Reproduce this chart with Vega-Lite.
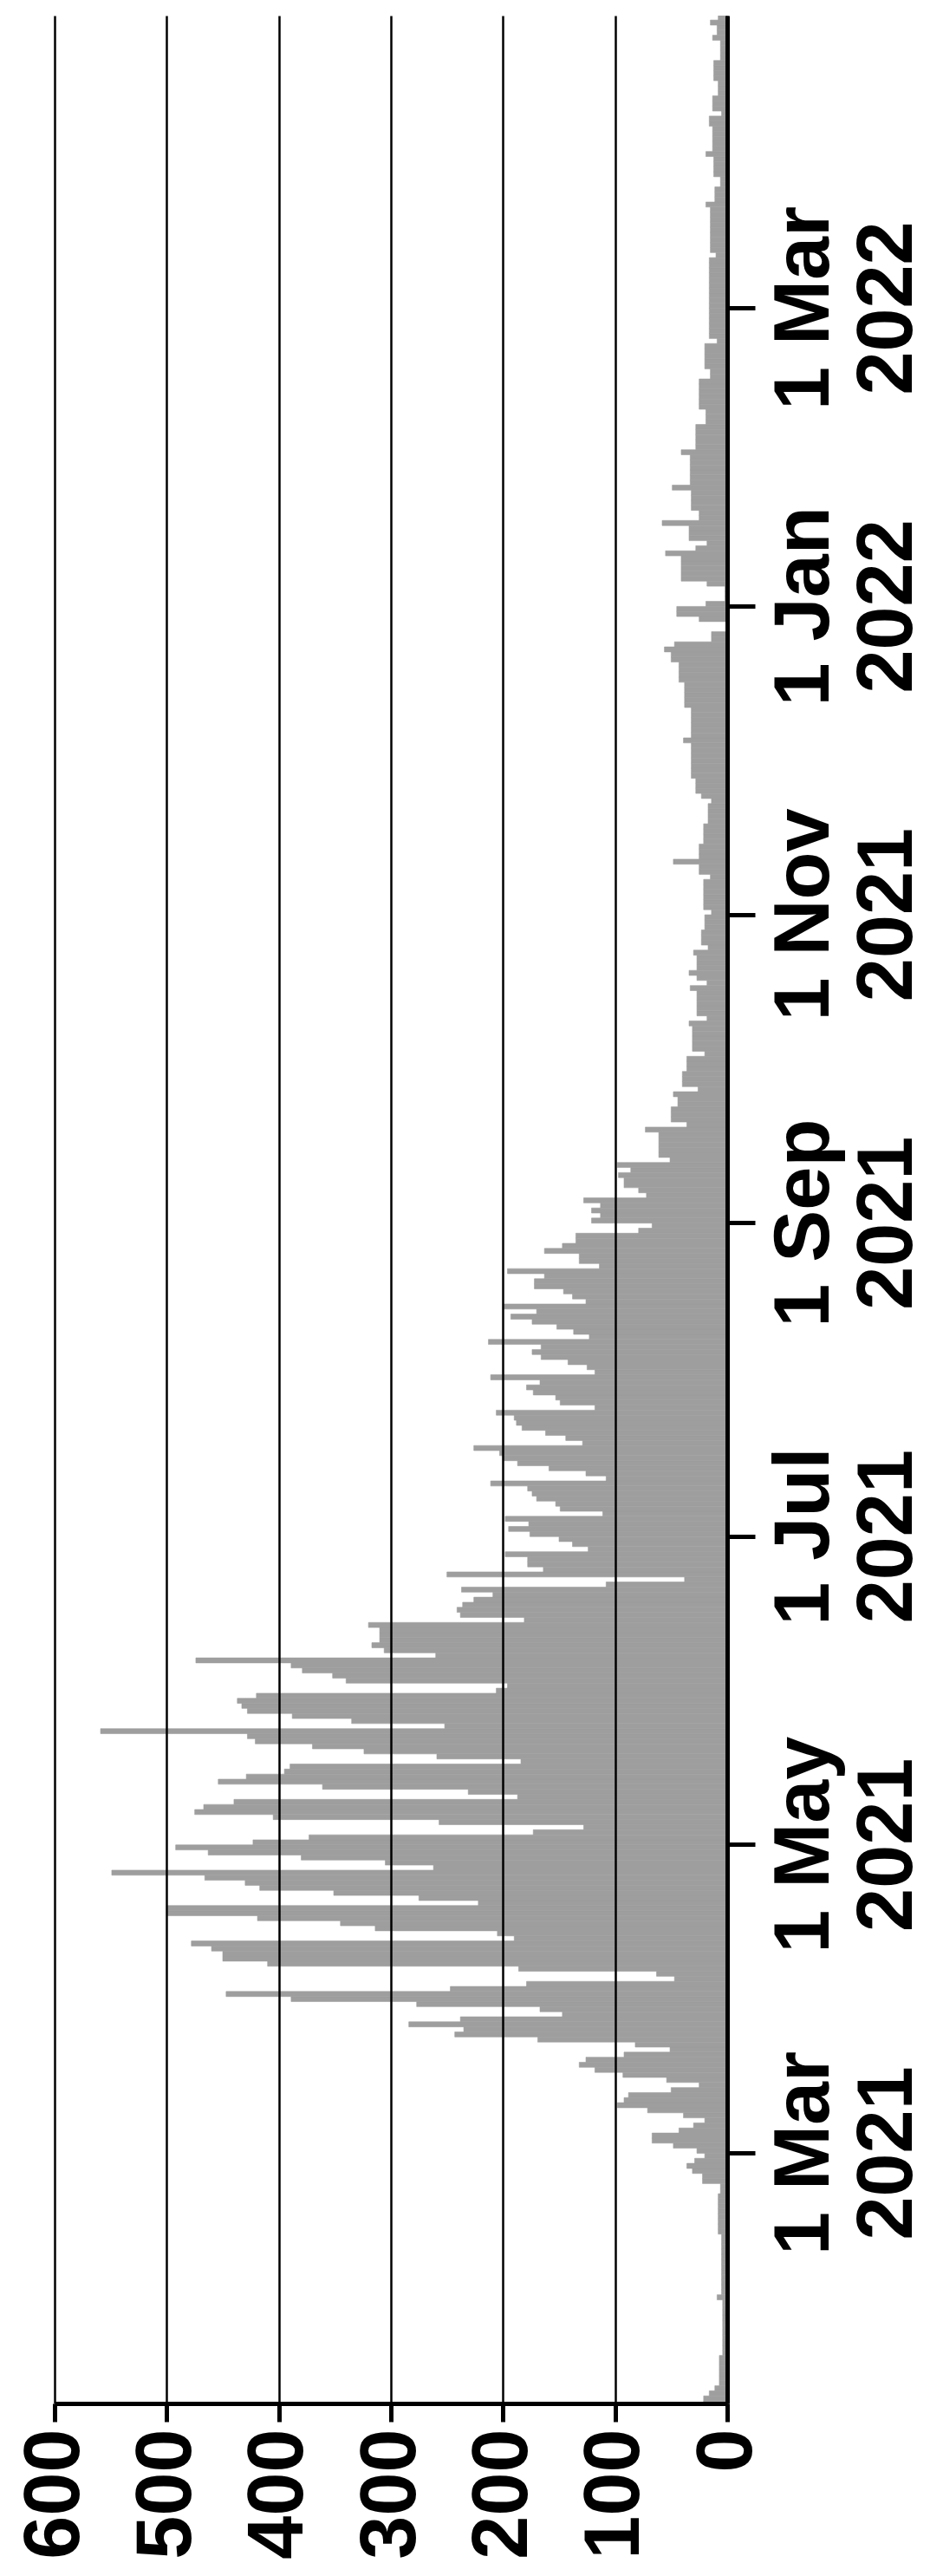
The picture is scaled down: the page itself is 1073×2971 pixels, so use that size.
{
  "$schema": "https://vega.github.io/schema/vega-lite/v6.json",
  "description": "Daily counts, Jan 2021 to Apr 2022, drawn as a bar chart turned on its side",
  "width": 776,
  "height": 2754,
  "autosize": {"type": "none"},
  "padding": {"left": 63, "top": 18, "right": 234, "bottom": 199},
  "background": "white",
  "config": {"view": {"stroke": null}},
  "data": {
    "values": [
      {"d":"2021-01-10","v":21},{"d":"2021-01-11","v":21},{"d":"2021-01-12","v":16},{"d":"2021-01-13","v":11},
      {"d":"2021-01-14","v":7},{"d":"2021-01-15","v":7},{"d":"2021-01-16","v":7},{"d":"2021-01-17","v":7},
      {"d":"2021-01-18","v":7},{"d":"2021-01-19","v":7},{"d":"2021-01-20","v":4},{"d":"2021-01-21","v":4},
      {"d":"2021-01-22","v":4},{"d":"2021-01-23","v":4},{"d":"2021-01-24","v":4},{"d":"2021-01-25","v":4},
      {"d":"2021-01-26","v":4},{"d":"2021-01-27","v":4},{"d":"2021-01-28","v":4},{"d":"2021-01-29","v":4},
      {"d":"2021-01-30","v":4},{"d":"2021-01-31","v":9},
      {"d":"2021-02-01","v":5},{"d":"2021-02-02","v":5},{"d":"2021-02-03","v":5},{"d":"2021-02-04","v":5},
      {"d":"2021-02-05","v":5},{"d":"2021-02-06","v":5},{"d":"2021-02-07","v":5},{"d":"2021-02-08","v":5},
      {"d":"2021-02-09","v":5},{"d":"2021-02-10","v":5},{"d":"2021-02-11","v":5},{"d":"2021-02-12","v":5},
      {"d":"2021-02-13","v":8},{"d":"2021-02-14","v":8},{"d":"2021-02-15","v":8},{"d":"2021-02-16","v":8},
      {"d":"2021-02-17","v":8},{"d":"2021-02-18","v":8},{"d":"2021-02-19","v":8},{"d":"2021-02-20","v":8},
      {"d":"2021-02-21","v":6},{"d":"2021-02-22","v":6},{"d":"2021-02-23","v":22},{"d":"2021-02-24","v":22},
      {"d":"2021-02-25","v":31},{"d":"2021-02-26","v":36},{"d":"2021-02-27","v":29},{"d":"2021-02-28","v":20},
      {"d":"2021-03-01","v":27},{"d":"2021-03-02","v":48},{"d":"2021-03-03","v":67},{"d":"2021-03-04","v":67},
      {"d":"2021-03-05","v":43},{"d":"2021-03-06","v":30},{"d":"2021-03-07","v":20},{"d":"2021-03-08","v":39},
      {"d":"2021-03-09","v":71},{"d":"2021-03-10","v":98},{"d":"2021-03-11","v":92},{"d":"2021-03-12","v":88},
      {"d":"2021-03-13","v":50},{"d":"2021-03-14","v":25},{"d":"2021-03-15","v":54},{"d":"2021-03-16","v":93},
      {"d":"2021-03-17","v":118},{"d":"2021-03-18","v":132},{"d":"2021-03-19","v":126},{"d":"2021-03-20","v":92},
      {"d":"2021-03-21","v":51},{"d":"2021-03-22","v":82},{"d":"2021-03-23","v":169},{"d":"2021-03-24","v":243},
      {"d":"2021-03-25","v":235},{"d":"2021-03-26","v":284},{"d":"2021-03-27","v":238},{"d":"2021-03-28","v":147},
      {"d":"2021-03-29","v":167},{"d":"2021-03-30","v":277},{"d":"2021-03-31","v":389},
      {"d":"2021-04-01","v":447},{"d":"2021-04-02","v":247},{"d":"2021-04-03","v":179},{"d":"2021-04-04","v":47},
      {"d":"2021-04-05","v":63},{"d":"2021-04-06","v":186},{"d":"2021-04-07","v":410},{"d":"2021-04-08","v":450},
      {"d":"2021-04-09","v":450},{"d":"2021-04-10","v":460},{"d":"2021-04-11","v":478},{"d":"2021-04-12","v":190},
      {"d":"2021-04-13","v":205},{"d":"2021-04-14","v":314},{"d":"2021-04-15","v":345},{"d":"2021-04-16","v":419},
      {"d":"2021-04-17","v":500},{"d":"2021-04-18","v":500},{"d":"2021-04-19","v":222},{"d":"2021-04-20","v":275},
      {"d":"2021-04-21","v":351},{"d":"2021-04-22","v":417},{"d":"2021-04-23","v":430},{"d":"2021-04-24","v":466},
      {"d":"2021-04-25","v":549},{"d":"2021-04-26","v":262},{"d":"2021-04-27","v":305},{"d":"2021-04-28","v":380},
      {"d":"2021-04-29","v":463},{"d":"2021-04-30","v":492},
      {"d":"2021-05-01","v":423},{"d":"2021-05-02","v":373},{"d":"2021-05-03","v":173},{"d":"2021-05-04","v":128},
      {"d":"2021-05-05","v":257},{"d":"2021-05-06","v":405},{"d":"2021-05-07","v":475},{"d":"2021-05-08","v":467},
      {"d":"2021-05-09","v":440},{"d":"2021-05-10","v":187},{"d":"2021-05-11","v":231},{"d":"2021-05-12","v":361},
      {"d":"2021-05-13","v":454},{"d":"2021-05-14","v":429},{"d":"2021-05-15","v":395},{"d":"2021-05-16","v":390},
      {"d":"2021-05-17","v":184},{"d":"2021-05-18","v":259},{"d":"2021-05-19","v":324},{"d":"2021-05-20","v":370},
      {"d":"2021-05-21","v":421},{"d":"2021-05-22","v":428},{"d":"2021-05-23","v":559},{"d":"2021-05-24","v":252},
      {"d":"2021-05-25","v":335},{"d":"2021-05-26","v":388},{"d":"2021-05-27","v":428},{"d":"2021-05-28","v":433},
      {"d":"2021-05-29","v":437},{"d":"2021-05-30","v":420},{"d":"2021-05-31","v":206},
      {"d":"2021-06-01","v":196},{"d":"2021-06-02","v":340},{"d":"2021-06-03","v":352},{"d":"2021-06-04","v":379},
      {"d":"2021-06-05","v":389},{"d":"2021-06-06","v":474},{"d":"2021-06-07","v":260},{"d":"2021-06-08","v":306},
      {"d":"2021-06-09","v":317},{"d":"2021-06-10","v":310},{"d":"2021-06-11","v":310},{"d":"2021-06-12","v":310},
      {"d":"2021-06-13","v":320},{"d":"2021-06-14","v":181},{"d":"2021-06-15","v":238},{"d":"2021-06-16","v":241},
      {"d":"2021-06-17","v":236},{"d":"2021-06-18","v":226},{"d":"2021-06-19","v":209},{"d":"2021-06-20","v":237},
      {"d":"2021-06-21","v":108},{"d":"2021-06-22","v":38},{"d":"2021-06-23","v":250},{"d":"2021-06-24","v":164},
      {"d":"2021-06-25","v":178},{"d":"2021-06-26","v":178},{"d":"2021-06-27","v":198},{"d":"2021-06-28","v":124},
      {"d":"2021-06-29","v":138},{"d":"2021-06-30","v":150},
      {"d":"2021-07-01","v":176},{"d":"2021-07-02","v":195},{"d":"2021-07-03","v":177},{"d":"2021-07-04","v":198},
      {"d":"2021-07-05","v":111},{"d":"2021-07-06","v":149},{"d":"2021-07-07","v":153},{"d":"2021-07-08","v":170},
      {"d":"2021-07-09","v":174},{"d":"2021-07-10","v":178},{"d":"2021-07-11","v":211},{"d":"2021-07-12","v":108},
      {"d":"2021-07-13","v":126},{"d":"2021-07-14","v":159},{"d":"2021-07-15","v":187},{"d":"2021-07-16","v":200},
      {"d":"2021-07-17","v":203},{"d":"2021-07-18","v":226},{"d":"2021-07-19","v":129},{"d":"2021-07-20","v":144},
      {"d":"2021-07-21","v":162},{"d":"2021-07-22","v":183},{"d":"2021-07-23","v":188},{"d":"2021-07-24","v":190},
      {"d":"2021-07-25","v":206},{"d":"2021-07-26","v":118},{"d":"2021-07-27","v":149},{"d":"2021-07-28","v":153},
      {"d":"2021-07-29","v":173},{"d":"2021-07-30","v":179},{"d":"2021-07-31","v":167},
      {"d":"2021-08-01","v":211},{"d":"2021-08-02","v":118},{"d":"2021-08-03","v":125},{"d":"2021-08-04","v":142},
      {"d":"2021-08-05","v":166},{"d":"2021-08-06","v":174},{"d":"2021-08-07","v":166},{"d":"2021-08-08","v":213},
      {"d":"2021-08-09","v":123},{"d":"2021-08-10","v":137},{"d":"2021-08-11","v":152},{"d":"2021-08-12","v":174},
      {"d":"2021-08-13","v":193},{"d":"2021-08-14","v":170},{"d":"2021-08-15","v":200},{"d":"2021-08-16","v":126},
      {"d":"2021-08-17","v":138},{"d":"2021-08-18","v":146},{"d":"2021-08-19","v":172},{"d":"2021-08-20","v":172},
      {"d":"2021-08-21","v":163},{"d":"2021-08-22","v":196},{"d":"2021-08-23","v":114},{"d":"2021-08-24","v":132},
      {"d":"2021-08-25","v":132},{"d":"2021-08-26","v":163},{"d":"2021-08-27","v":147},{"d":"2021-08-28","v":135},
      {"d":"2021-08-29","v":135},{"d":"2021-08-30","v":79},{"d":"2021-08-31","v":67},
      {"d":"2021-09-01","v":121},{"d":"2021-09-02","v":113},{"d":"2021-09-03","v":121},{"d":"2021-09-04","v":113},
      {"d":"2021-09-05","v":128},{"d":"2021-09-06","v":72},{"d":"2021-09-07","v":79},{"d":"2021-09-08","v":92},
      {"d":"2021-09-09","v":92},{"d":"2021-09-10","v":97},{"d":"2021-09-11","v":86},{"d":"2021-09-12","v":98},
      {"d":"2021-09-13","v":51},{"d":"2021-09-14","v":61},{"d":"2021-09-15","v":61},{"d":"2021-09-16","v":61},
      {"d":"2021-09-17","v":61},{"d":"2021-09-18","v":61},{"d":"2021-09-19","v":73},{"d":"2021-09-20","v":36},
      {"d":"2021-09-21","v":50},{"d":"2021-09-22","v":50},{"d":"2021-09-23","v":50},{"d":"2021-09-24","v":44},
      {"d":"2021-09-25","v":44},{"d":"2021-09-26","v":48},{"d":"2021-09-27","v":26},{"d":"2021-09-28","v":40},
      {"d":"2021-09-29","v":40},{"d":"2021-09-30","v":40},
      {"d":"2021-10-01","v":36},{"d":"2021-10-02","v":36},{"d":"2021-10-03","v":36},{"d":"2021-10-04","v":20},
      {"d":"2021-10-05","v":31},{"d":"2021-10-06","v":31},{"d":"2021-10-07","v":31},{"d":"2021-10-08","v":31},
      {"d":"2021-10-09","v":31},{"d":"2021-10-10","v":34},{"d":"2021-10-11","v":18},{"d":"2021-10-12","v":27},
      {"d":"2021-10-13","v":27},{"d":"2021-10-14","v":27},{"d":"2021-10-15","v":27},{"d":"2021-10-16","v":27},
      {"d":"2021-10-17","v":33},{"d":"2021-10-18","v":18},{"d":"2021-10-19","v":27},{"d":"2021-10-20","v":34},
      {"d":"2021-10-21","v":27},{"d":"2021-10-22","v":27},{"d":"2021-10-23","v":27},{"d":"2021-10-24","v":30},
      {"d":"2021-10-25","v":17},{"d":"2021-10-26","v":23},{"d":"2021-10-27","v":23},{"d":"2021-10-28","v":23},
      {"d":"2021-10-29","v":20},{"d":"2021-10-30","v":20},{"d":"2021-10-31","v":20},
      {"d":"2021-11-01","v":14},{"d":"2021-11-02","v":21},{"d":"2021-11-03","v":21},{"d":"2021-11-04","v":21},
      {"d":"2021-11-05","v":21},{"d":"2021-11-06","v":21},{"d":"2021-11-07","v":21},{"d":"2021-11-08","v":15},
      {"d":"2021-11-09","v":25},{"d":"2021-11-10","v":25},{"d":"2021-11-11","v":48},{"d":"2021-11-12","v":25},
      {"d":"2021-11-13","v":25},{"d":"2021-11-14","v":25},{"d":"2021-11-15","v":21},{"d":"2021-11-16","v":21},
      {"d":"2021-11-17","v":21},{"d":"2021-11-18","v":21},{"d":"2021-11-19","v":17},{"d":"2021-11-20","v":17},
      {"d":"2021-11-21","v":17},{"d":"2021-11-22","v":17},{"d":"2021-11-23","v":14},{"d":"2021-11-24","v":23},
      {"d":"2021-11-25","v":28},{"d":"2021-11-26","v":28},{"d":"2021-11-27","v":28},{"d":"2021-11-28","v":32},
      {"d":"2021-11-29","v":32},{"d":"2021-11-30","v":32},
      {"d":"2021-12-01","v":32},{"d":"2021-12-02","v":32},{"d":"2021-12-03","v":32},{"d":"2021-12-04","v":32},
      {"d":"2021-12-05","v":39},{"d":"2021-12-06","v":32},{"d":"2021-12-07","v":32},{"d":"2021-12-08","v":32},
      {"d":"2021-12-09","v":32},{"d":"2021-12-10","v":32},{"d":"2021-12-11","v":32},{"d":"2021-12-12","v":38},
      {"d":"2021-12-13","v":38},{"d":"2021-12-14","v":38},{"d":"2021-12-15","v":38},{"d":"2021-12-16","v":38},
      {"d":"2021-12-17","v":43},{"d":"2021-12-18","v":43},{"d":"2021-12-19","v":43},{"d":"2021-12-20","v":43},
      {"d":"2021-12-21","v":50},{"d":"2021-12-22","v":50},{"d":"2021-12-23","v":56},{"d":"2021-12-24","v":47},
      {"d":"2021-12-25","v":14},{"d":"2021-12-26","v":14},{"d":"2021-12-27","v":0},{"d":"2021-12-28","v":0},
      {"d":"2021-12-29","v":25},{"d":"2021-12-30","v":45},{"d":"2021-12-31","v":45},
      {"d":"2022-01-01","v":19},{"d":"2022-01-02","v":2},{"d":"2022-01-03","v":2},{"d":"2022-01-04","v":2},
      {"d":"2022-01-05","v":18},{"d":"2022-01-06","v":41},{"d":"2022-01-07","v":41},{"d":"2022-01-08","v":41},
      {"d":"2022-01-09","v":41},{"d":"2022-01-10","v":41},{"d":"2022-01-11","v":55},{"d":"2022-01-12","v":28},
      {"d":"2022-01-13","v":18},{"d":"2022-01-14","v":34},{"d":"2022-01-15","v":34},{"d":"2022-01-16","v":34},
      {"d":"2022-01-17","v":58},{"d":"2022-01-18","v":25},{"d":"2022-01-19","v":25},{"d":"2022-01-20","v":32},
      {"d":"2022-01-21","v":32},{"d":"2022-01-22","v":32},{"d":"2022-01-23","v":32},{"d":"2022-01-24","v":49},
      {"d":"2022-01-25","v":33},{"d":"2022-01-26","v":33},{"d":"2022-01-27","v":33},{"d":"2022-01-28","v":33},
      {"d":"2022-01-29","v":33},{"d":"2022-01-30","v":33},{"d":"2022-01-31","v":41},
      {"d":"2022-02-01","v":28},{"d":"2022-02-02","v":28},{"d":"2022-02-03","v":28},{"d":"2022-02-04","v":28},
      {"d":"2022-02-05","v":28},{"d":"2022-02-06","v":19},{"d":"2022-02-07","v":19},{"d":"2022-02-08","v":19},
      {"d":"2022-02-09","v":25},{"d":"2022-02-10","v":25},{"d":"2022-02-11","v":25},{"d":"2022-02-12","v":25},
      {"d":"2022-02-13","v":25},{"d":"2022-02-14","v":25},{"d":"2022-02-15","v":15},{"d":"2022-02-16","v":15},
      {"d":"2022-02-17","v":20},{"d":"2022-02-18","v":20},{"d":"2022-02-19","v":20},{"d":"2022-02-20","v":20},
      {"d":"2022-02-21","v":20},{"d":"2022-02-22","v":9},{"d":"2022-02-23","v":16},{"d":"2022-02-24","v":16},
      {"d":"2022-02-25","v":16},{"d":"2022-02-26","v":16},{"d":"2022-02-27","v":16},{"d":"2022-02-28","v":16},
      {"d":"2022-03-01","v":16},{"d":"2022-03-02","v":16},{"d":"2022-03-03","v":16},{"d":"2022-03-04","v":16},
      {"d":"2022-03-05","v":16},{"d":"2022-03-06","v":16},{"d":"2022-03-07","v":16},{"d":"2022-03-08","v":16},
      {"d":"2022-03-09","v":16},{"d":"2022-03-10","v":16},{"d":"2022-03-11","v":10},{"d":"2022-03-12","v":15},
      {"d":"2022-03-13","v":15},{"d":"2022-03-14","v":15},{"d":"2022-03-15","v":15},{"d":"2022-03-16","v":15},
      {"d":"2022-03-17","v":15},{"d":"2022-03-18","v":15},{"d":"2022-03-19","v":15},{"d":"2022-03-20","v":15},
      {"d":"2022-03-21","v":19},{"d":"2022-03-22","v":11},{"d":"2022-03-23","v":11},{"d":"2022-03-24","v":11},
      {"d":"2022-03-25","v":6},{"d":"2022-03-26","v":6},{"d":"2022-03-27","v":12},{"d":"2022-03-28","v":12},
      {"d":"2022-03-29","v":12},{"d":"2022-03-30","v":12},{"d":"2022-03-31","v":19},
      {"d":"2022-04-01","v":13},{"d":"2022-04-02","v":13},{"d":"2022-04-03","v":13},{"d":"2022-04-04","v":13},
      {"d":"2022-04-05","v":13},{"d":"2022-04-06","v":16},{"d":"2022-04-07","v":16},{"d":"2022-04-08","v":5},
      {"d":"2022-04-09","v":13},{"d":"2022-04-10","v":13},{"d":"2022-04-11","v":13},{"d":"2022-04-12","v":8},
      {"d":"2022-04-13","v":8},{"d":"2022-04-14","v":8},{"d":"2022-04-15","v":12},{"d":"2022-04-16","v":12},
      {"d":"2022-04-17","v":12},{"d":"2022-04-18","v":12},{"d":"2022-04-19","v":6},{"d":"2022-04-20","v":6},
      {"d":"2022-04-21","v":6},{"d":"2022-04-22","v":6},{"d":"2022-04-23","v":13},{"d":"2022-04-24","v":9},
      {"d":"2022-04-25","v":9},{"d":"2022-04-26","v":15},{"d":"2022-04-27","v":8},{"d":"2022-04-28","v":8}
    ]
  },
  "mark": {"type": "bar", "color": "#9e9e9e", "clip": true, "binSpacing": 0, "stroke": "#9e9e9e", "strokeWidth": 0.6},
  "encoding": {
    "y": {
      "field": "d",
      "type": "temporal",
      "timeUnit": "utcyearmonthdate",
      "scale": {
        "type": "utc",
        "domain": [
          {"year": 2021, "month": 1, "date": 10, "hours": 10, "utc": true},
          {"year": 2022, "month": 4, "date": 27, "hours": 19, "utc": true}
        ]
      },
      "axis": {
        "orient": "right",
        "title": null,
        "zindex": 1,
        "grid": false,
        "values": [
          {"year": 2021, "month": 3, "date": 1, "utc": true},
          {"year": 2021, "month": 5, "date": 1, "utc": true},
          {"year": 2021, "month": 7, "date": 1, "utc": true},
          {"year": 2021, "month": 9, "date": 1, "utc": true},
          {"year": 2021, "month": 11, "date": 1, "utc": true},
          {"year": 2022, "month": 1, "date": 1, "utc": true},
          {"year": 2022, "month": 3, "date": 1, "utc": true}
        ],
        "labelExpr": "[utcFormat(datum.value, '%-d %b'), utcFormat(datum.value, '%Y')]",
        "labelAngle": -90,
        "labelAlign": "center",
        "labelBaseline": "top",
        "labelFont": "Liberation Sans",
        "labelFontWeight": "bold",
        "labelFontSize": 90,
        "labelLineHeight": 96,
        "labelColor": "black",
        "labelPadding": 13,
        "labelLimit": 0,
        "labelOverlap": false,
        "labelFlush": false,
        "labelBound": false,
        "domainColor": "black",
        "domainWidth": 5,
        "tickColor": "black",
        "tickWidth": 5,
        "tickSize": 32
      }
    },
    "x": {
      "field": "v",
      "type": "quantitative",
      "scale": {"domain": [0, 600], "reverse": true},
      "axis": {
        "orient": "bottom",
        "title": null,
        "zindex": 1,
        "values": [0, 100, 200, 300, 400, 500, 600],
        "grid": true,
        "gridColor": "black",
        "gridWidth": 2.5,
        "gridOpacity": 1,
        "labelAngle": -90,
        "labelAlign": "right",
        "labelBaseline": "middle",
        "labelFont": "Liberation Sans",
        "labelFontWeight": "bold",
        "labelFontSize": 90,
        "labelColor": "black",
        "labelPadding": 8,
        "labelLimit": 0,
        "labelOverlap": false,
        "labelFlush": false,
        "labelBound": false,
        "domainColor": "black",
        "domainWidth": 5,
        "tickColor": "black",
        "tickWidth": 5,
        "tickSize": 21
      }
    }
  }
}
